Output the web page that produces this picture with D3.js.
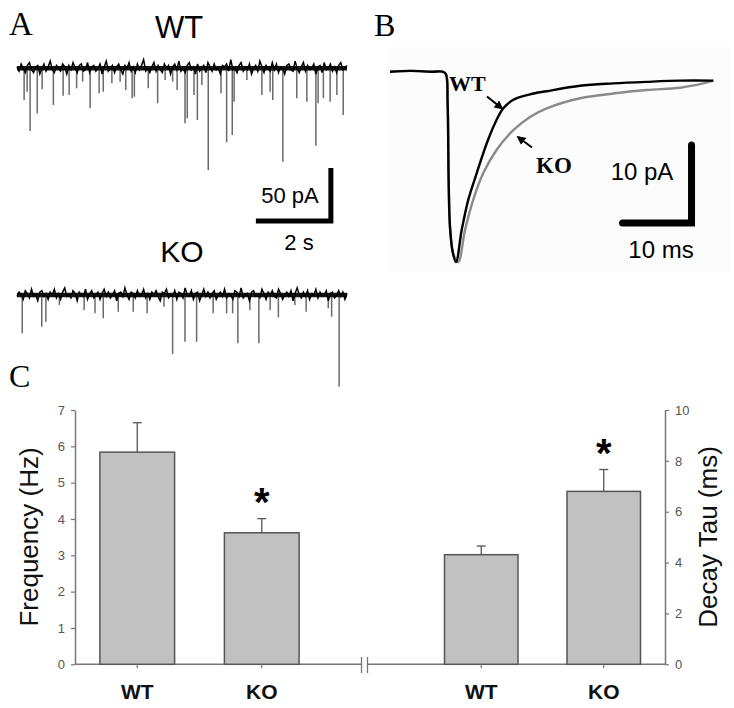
<!DOCTYPE html>
<html><head><meta charset="utf-8">
<script src="https://cdn.jsdelivr.net/npm/d3@7"></script>
<style>body{margin:0;background:#fff}svg{display:block}</style>
</head><body><svg id="c" width="734" height="708"></svg>
<script>
// ---------- Panel C data ----------
const categories = ["WT", "KO"];
const frequencyMeans = [5.84, 3.62];
const frequencySEM = [0.81, 0.39];
const tauMeans = [4.31, 6.80];
const tauSEM = [0.34, 0.86];
const significant = [false, true];
const freqTicks = [0, 1, 2, 3, 4, 5, 6, 7];
const tauTicks = [0, 2, 4, 6, 8, 10];

// ---------- Panel A data (time s, amplitude pA) ----------
const traceDuration = 8.8;
const wtSpikeTimes = [0.19,0.27,0.35,0.54,0.67,0.97,1.23,1.39,1.59,1.75,1.95,2.19,2.30,2.53,2.75,2.90,3.07,3.13,3.50,3.75,3.95,4.15,4.27,4.48,4.54,4.72,4.81,4.93,5.10,5.44,5.59,5.74,5.79,6.13,6.53,6.75,6.82,7.09,7.46,7.73,7.97,8.03,8.17,8.35,8.53,8.70];
const wtSpikeAmps  = [29.9,22.1,59.2,42.5,19.8,34.6,25.8,25.2,18.9,12.6,37.7,23.6,22.1,14.2,12.6,20.5,28.3,26.8,18.9,33.0,11.0,12.6,20.5,51.9,47.2,25.2,48.8,15.8,95.9,23.6,69.8,62.9,31.5,11.0,25.2,22.1,29.9,88.1,28.3,31.5,73.0,33.0,28.3,31.5,25.2,44.1];
const koSpikeTimes = [0.14,0.66,0.77,1.13,1.79,2.08,2.30,2.70,3.10,3.47,3.92,4.15,4.48,4.79,5.23,5.59,5.75,5.89,6.21,6.45,6.75,6.97,7.41,7.71,8.30,8.39,8.59];
const koSpikeAmps  = [36.1,29.9,25.2,9.4,14.2,17.3,22.0,15.8,15.8,17.3,11.0,55.7,44.1,44.1,17.3,17.3,17.3,45.6,14.2,45.6,14.2,21.1,9.4,15.8,12.6,20.5,86.5];
const wtNoise = [1,-2,3,0,-3,2,4,-1,-3,1,2,-4,0,3,-2,1,5,-1,-3,2,
  0,-2,3,1,-4,2,-1,4,0,-3,2,3,-2,-1,4,-3,1,2,-2,0,
  3,-4,1,5,-2,0,2,-3,1,3,-1,-4,2,0,4,-2,1,-3,3,-1,
  2,6,-2,0,-3,1,4,-2,2,-1,-3,3,0,2,-4,1,3,-1,5,-2,
  0,-3,2,4,-1,1,-4,3,-2,0,2,-3,4,1,-2,3,-1,0,-4,2,
  1,3,-2,6,-1,0,-3,2,4,-2,1,-1,3,-4,0,2,-2,5,1,-3,
  2,0,-2,4,-1,3,-3,1,0,-4,2,3,-1,-2,5,0,-3,1,4,-2,
  2,-1,0,3,-4,1,2,-3,4,-1,0,3,-2,1,-3,2,4,-1,0,2];
const koNoise = [-1,2,0,-3,3,1,-2,4,-1,0,-4,2,3,-1,1,-3,2,0,4,-2,
  1,-3,2,5,-1,0,-2,3,1,-4,2,0,-1,4,-3,1,3,-2,0,2,
  -3,1,4,-1,2,-2,0,3,-4,1,2,-1,5,0,-3,2,1,-2,3,-1,
  0,4,-2,1,-3,2,0,3,-1,-4,2,1,4,-2,0,-1,3,-3,2,1,
  -2,5,0,-1,3,-3,1,2,-4,0,4,-1,2,-2,1,3,-3,0,2,-1,
  4,-2,1,0,-3,3,2,-1,5,-2,0,1,-4,2,3,-1,0,-2,4,1,
  -3,2,0,3,-1,-2,4,1,-3,0,2,-1,3,-4,1,5,0,-2,2,-1,
  3,-3,1,0,4,-2,2,-1,0,3,-4,1,2,-2,0,3,-1,2,-3,1];

// ---------- Panel B data (time ms, current pA) ----------
const wtAvgTime    = [0,3,6,7.6,8.1,8.35,8.5,8.7,9.1,9.57,10.39,11.35,12.57,14.01,15.22,16.42,17.87,20.29,22.71,27.54,32.36,37.2,42.03,46.86];
const wtAvgCurrent = [0,0.1,0,0,-0.3,-4,-14,-20,-23.2,-24.4,-20.3,-16.4,-13.0,-9.2,-6.6,-4.7,-3.6,-2.9,-2.5,-1.8,-1.5,-1.3,-1.15,-1.15];
const koAvgTime    = [0,3,6,7.6,8.1,8.35,8.5,8.7,9.2,9.9,10.87,12.07,13.52,15.46,17.87,20.29,22.71,27.54,32.36,37.2,42.03,45.4,46.86];
const koAvgCurrent = [0,0.1,0,0,-0.3,-4,-14,-20,-23.4,-24.4,-20.3,-16.4,-13.0,-10.0,-7.5,-5.8,-4.7,-3.4,-2.8,-2.35,-2.05,-1.5,-1.15];

const svg = d3.select("#c");
const AR = "Arial, 'Liberation Sans', sans-serif";
const TR = "'Times New Roman', 'Liberation Serif', serif";

// ---------- Panel letters ----------
svg.append("text").attr("x", 9).attr("y", 35).text("A").attr("font-family", TR).attr("font-size", 33);
svg.append("text").attr("x", 374).attr("y", 36).text("B").attr("font-family", TR).attr("font-size", 32);
svg.append("text").attr("x", 9).attr("y", 387).text("C").attr("font-family", TR).attr("font-size", 32);

// ---------- Panel A ----------
const xA = d3.scaleLinear().domain([0, traceDuration]).range([17, 347]);
const yWT = d3.scaleLinear().domain([-100, 10]).range([174.3, 57.7]);
const yKO = d3.scaleLinear().domain([-100, 10]).range([401, 284.4]);

function drawTrace(noise, spT, spA, y) {
  const g = svg.append("g");
  g.selectAll("line.sp").data(spT).join("line")
    .attr("x1", d => xA(d)).attr("x2", d => xA(d))
    .attr("y1", y(0)).attr("y2", (d, i) => y(-spA[i]))
    .attr("stroke", "#6a6a6a").attr("stroke-width", 1.5);
  g.append("line").attr("x1", xA(0)).attr("x2", xA(traceDuration)).attr("y1", y(0)).attr("y2", y(0))
    .attr("stroke", "#151515").attr("stroke-width", 4.5);
  const step = traceDuration / (noise.length - 1);
  g.append("path").datum(noise)
    .attr("d", d3.line().x((d, i) => xA(i * step)).y(d => y(d * 1.35)))
    .attr("fill", "none").attr("stroke", "#000").attr("stroke-width", 1.5);
}
drawTrace(wtNoise, wtSpikeTimes, wtSpikeAmps, yWT);
drawTrace(koNoise, koSpikeTimes, koSpikeAmps, yKO);

svg.append("text").attr("x", 179).attr("y", 38).attr("text-anchor", "middle")
  .attr("font-family", AR).attr("font-size", 31).text("WT");
svg.append("text").attr("x", 182).attr("y", 262).attr("text-anchor", "middle")
  .attr("font-family", AR).attr("font-size", 30).text("KO");

// scale bar A: 2 s, 50 pA
const sbT = 8.37, sbY = -144;
svg.append("path")
  .attr("d", `M${xA(sbT - 2)},${yWT(sbY)}H${xA(sbT)}V${yWT(sbY + 50)}`)
  .attr("fill", "none").attr("stroke", "#000").attr("stroke-width", 5)
  .attr("stroke-linejoin", "miter");
svg.append("text").attr("x", 290).attr("y", 203).attr("text-anchor", "middle")
  .attr("font-family", AR).attr("font-size", 22).text("50 pA");
svg.append("text").attr("x", 299).attr("y", 250).attr("text-anchor", "middle")
  .attr("font-family", AR).attr("font-size", 22).text("2 s");

// ---------- Panel B ----------
svg.append("rect").attr("x", 388).attr("y", 47).attr("width", 342).attr("height", 225).attr("fill", "#fcfcfc");
const xB = d3.scaleLinear().domain([0, 50]).range([390, 735]);
const yB = d3.scaleLinear().domain([-25, 2]).range([266.7, 56.1]);
const lineB = d3.line().x(d => xB(d[0])).y(d => yB(d[1])).curve(d3.curveCatmullRom.alpha(0.5));
svg.append("path").datum(koAvgTime.map((t, i) => [t, koAvgCurrent[i]]))
  .attr("d", lineB).attr("fill", "none").attr("stroke", "#8a8a8a").attr("stroke-width", 2.4);
svg.append("path").datum(wtAvgTime.map((t, i) => [t, wtAvgCurrent[i]]))
  .attr("d", lineB).attr("fill", "none").attr("stroke", "#000").attr("stroke-width", 2.4);

const defs = svg.append("defs");
defs.append("marker").attr("id", "ah").attr("viewBox", "0 0 10 10").attr("refX", 8).attr("refY", 5)
  .attr("markerWidth", 4.5).attr("markerHeight", 4.5).attr("markerUnits", "strokeWidth").attr("orient", "auto")
  .append("path").attr("d", "M0,0L10,5L0,10z").attr("fill", "#000");
svg.append("line").attr("x1", 487).attr("y1", 96.5).attr("x2", 502).attr("y2", 108.5)
  .attr("stroke", "#000").attr("stroke-width", 2).attr("marker-end", "url(#ah)");
svg.append("line").attr("x1", 532).attr("y1", 147.5).attr("x2", 518).attr("y2", 137)
  .attr("stroke", "#000").attr("stroke-width", 2).attr("marker-end", "url(#ah)");
svg.append("text").attr("x", 449).attr("y", 91).attr("font-family", TR).attr("font-weight", "bold")
  .attr("font-size", 22).text("WT");
svg.append("text").attr("x", 536).attr("y", 173).attr("font-family", TR).attr("font-weight", "bold")
  .attr("font-size", 23).text("KO");

// scale bar B: 10 ms, 10 pA
const sbBt = 43.7, sbBy = -19.4;
svg.append("path")
  .attr("d", `M${xB(sbBt - 10)},${yB(sbBy)}H${xB(sbBt)}V${yB(sbBy + 10)}`)
  .attr("fill", "none").attr("stroke", "#000").attr("stroke-width", 7)
  .attr("stroke-linecap", "round").attr("stroke-linejoin", "miter");
svg.append("text").attr("x", 642).attr("y", 180).attr("text-anchor", "middle")
  .attr("font-family", AR).attr("font-size", 24).text("10 pA");
svg.append("text").attr("x", 661).attr("y", 258).attr("text-anchor", "middle")
  .attr("font-family", AR).attr("font-size", 24).text("10 ms");

// ---------- Panel C ----------
const y0 = 664.3, yTop = 410;
const yF = d3.scaleLinear().domain([0, 7]).range([y0, yTop]);
const yT = d3.scaleLinear().domain([0, 10]).range([y0, yTop]);
const xL = d3.scaleBand().domain(categories).range([75, 324]).paddingInner(0.4).paddingOuter(0.2);
const xR = d3.scaleBand().domain(categories).range([420, 665]).paddingInner(0.4).paddingOuter(0.2);
const axisCol = "#777";

function styleAxis(g) {
  g.select(".domain").attr("stroke", axisCol).attr("stroke-width", 1.5);
  g.selectAll(".tick line").attr("stroke", axisCol).attr("stroke-width", 1.2);
  g.selectAll(".tick text").attr("fill", "#555").attr("font-family", AR).attr("font-size", 13);
}
svg.append("g").attr("transform", "translate(75,0)")
  .call(d3.axisLeft(yF).tickValues(freqTicks).tickFormat(d3.format("d")).tickSize(4).tickSizeOuter(0).tickPadding(6))
  .call(styleAxis);
svg.append("g").attr("transform", "translate(665,0)")
  .call(d3.axisRight(yT).tickValues(tauTicks).tickFormat(d3.format("d")).tickSize(4).tickSizeOuter(0).tickPadding(6))
  .call(styleAxis);

// x axis baseline with break
svg.append("line").attr("x1", 75).attr("x2", 361).attr("y1", y0).attr("y2", y0).attr("stroke", axisCol).attr("stroke-width", 1.5);
svg.append("line").attr("x1", 368).attr("x2", 665).attr("y1", y0).attr("y2", y0).attr("stroke", axisCol).attr("stroke-width", 1.5);
[361.5, 367.5].forEach(x => svg.append("line").attr("x1", x).attr("x2", x).attr("y1", 657).attr("y2", 673)
  .attr("stroke", axisCol).attr("stroke-width", 1.3));

function drawBars(x, y, means, sems) {
  const g = svg.append("g");
  categories.forEach((c, i) => {
    const cx = x(c) + x.bandwidth() / 2;
    g.append("line").attr("x1", cx).attr("x2", cx).attr("y1", y(means[i])).attr("y2", y(means[i] + sems[i]))
      .attr("stroke", "#555").attr("stroke-width", 1.3);
    g.append("line").attr("x1", cx - 4.5).attr("x2", cx + 4.5).attr("y1", y(means[i] + sems[i])).attr("y2", y(means[i] + sems[i]))
      .attr("stroke", "#555").attr("stroke-width", 1.3);
    g.append("rect").attr("x", x(c)).attr("width", x.bandwidth())
      .attr("y", y(means[i])).attr("height", y(0) - y(means[i]))
      .attr("fill", "#c1c1c1").attr("stroke", "#555").attr("stroke-width", 1.5);
    g.append("line").attr("x1", cx).attr("x2", cx).attr("y1", y0).attr("y2", y0 + 4)
      .attr("stroke", axisCol).attr("stroke-width", 1.2);
    g.append("text").attr("x", cx).attr("y", 699).attr("text-anchor", "middle")
      .attr("font-family", AR).attr("font-weight", "bold").attr("font-size", 21).attr("fill", "#111").text(c);
    if (significant[i]) {
      g.append("text").attr("x", cx).attr("y", y(means[i] + sems[i]) - 3).attr("text-anchor", "middle")
        .attr("font-family", AR).attr("font-weight", "bold").attr("font-size", 40).text("*");
    }
  });
}
drawBars(xL, yF, frequencyMeans, frequencySEM);
drawBars(xR, yT, tauMeans, tauSEM);

svg.append("text").attr("transform", "translate(38,537) rotate(-90)").attr("text-anchor", "middle")
  .attr("font-family", AR).attr("font-size", 26).attr("fill", "#111").text("Frequency (Hz)");
svg.append("text").attr("transform", "translate(717,537) rotate(-90)").attr("text-anchor", "middle")
  .attr("font-family", AR).attr("font-size", 26).attr("fill", "#111").text("Decay Tau (ms)");
</script></body></html>
